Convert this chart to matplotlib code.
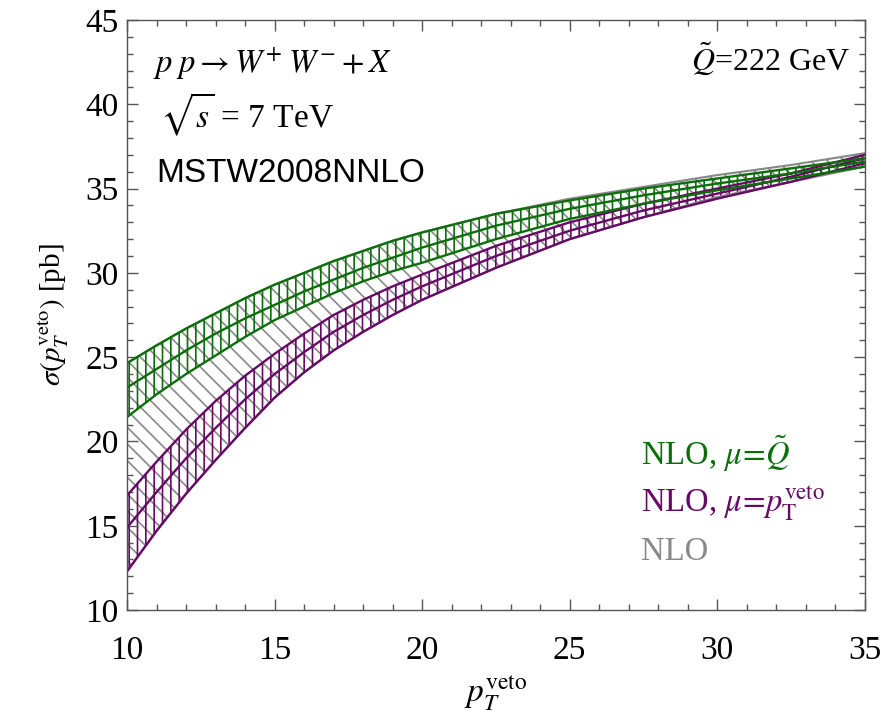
import numpy as np
import matplotlib
matplotlib.use('Agg')
import matplotlib.pyplot as plt
from matplotlib.ticker import MultipleLocator

ptveto = [10, 11, 12, 13, 14, 15, 16, 17, 18, 19, 20, 22.5, 25, 27.5, 30, 32.5, 35]

# NLO, mu = Q~ band (upper, central, lower)
q_up = [24.65, 25.7, 26.7, 27.6, 28.5, 29.3, 30.0, 30.7, 31.3, 31.9, 32.4,
        33.5, 34.3, 35.0, 35.6, 36.2, 36.8]
q_mid = [23.2, 24.3, 25.4, 26.4, 27.3, 28.1, 28.9, 29.6, 30.3, 30.9, 31.5,
         32.8, 33.8, 34.6, 35.3, 35.9, 36.6]
q_lo = [21.45, 22.8, 24.0, 25.1, 26.2, 27.2, 28.0, 28.8, 29.5, 30.1, 30.6,
        32.0, 33.2, 34.1, 34.9, 35.6, 36.3]

# NLO, mu = p_T^veto band
p_up = [16.8, 18.8, 20.7, 22.4, 23.9, 25.2, 26.4, 27.5, 28.4, 29.2, 29.9,
        31.6, 33.0, 34.1, 35.0, 35.9, 37.0]
p_mid = [14.9, 17.0, 19.0, 20.8, 22.5, 24.0, 25.3, 26.5, 27.5, 28.4, 29.2,
         31.0, 32.5, 33.7, 34.7, 35.7, 36.8]
p_lo = [12.3, 14.7, 16.9, 18.9, 20.8, 22.6, 24.1, 25.4, 26.5, 27.5, 28.4,
        30.3, 32.0, 33.3, 34.4, 35.4, 36.5]

# NLO total envelope
g_up = [24.65, 25.7, 26.7, 27.6, 28.5, 29.3, 30.0, 30.7, 31.3, 31.9, 32.4,
        33.5, 34.4, 35.1, 35.8, 36.4, 37.1]
g_lo = [12.3, 14.7, 16.9, 18.9, 20.8, 22.6, 24.1, 25.4, 26.5, 27.5, 28.4,
        30.3, 32.0, 33.3, 34.5, 35.4, 36.3]

green = '#0b6e0b'
purple = '#660a66'
gray = '#888888'

plt.rcParams['font.family'] = ['Liberation Serif', 'DejaVu Serif']
plt.rcParams['mathtext.fontset'] = 'stix'
plt.rcParams['hatch.linewidth'] = 1.2

fig = plt.figure(figsize=(8.95, 7.28), dpi=100)
ax = fig.add_axes([0.142, 0.162, 0.824, 0.8105])

# gray envelope with diagonal hatch
ax.fill_between(ptveto, g_lo, g_up, facecolor='none', edgecolor=gray,
                hatch='\\\\', linewidth=0)
ax.plot(ptveto, g_up, color=gray, lw=1.5)
ax.plot(ptveto, g_lo, color=gray, lw=1.5)

# purple band
ax.fill_between(ptveto, p_lo, p_up, facecolor='none', edgecolor=purple,
                hatch='||', linewidth=0)
for yy in [p_up, p_mid, p_lo]:
    ax.plot(ptveto, yy, color=purple, lw=1.7)

# green band
ax.fill_between(ptveto, q_lo, q_up, facecolor='none', edgecolor=green,
                hatch='||', linewidth=0)
for yy in [q_up, q_mid, q_lo]:
    ax.plot(ptveto, yy, color=green, lw=1.7)

ax.set_xlim(10, 35)
ax.set_ylim(10, 45)
ax.xaxis.set_major_locator(MultipleLocator(5))
ax.xaxis.set_minor_locator(MultipleLocator(1))
ax.yaxis.set_major_locator(MultipleLocator(5))
ax.yaxis.set_minor_locator(MultipleLocator(1))
ax.tick_params(which='both', direction='in', top=True, right=True,
               color='#555555', width=1)
ax.tick_params(which='major', length=8, labelsize=24)
ax.tick_params(axis='x', which='major', pad=18)
ax.tick_params(axis='y', which='major', pad=6)
ax.tick_params(which='minor', length=4)
for s in ax.spines.values():
    s.set_color('#555555')
    s.set_linewidth(1)

ax.set_xlabel(r'$p_T^{\mathrm{veto}}$', fontsize=24, labelpad=6)
ax.set_ylabel(r'$\sigma(p_T^{\mathrm{veto}})$ [pb]', fontsize=21, labelpad=10)

# annotations
ax.text(0.035, 0.925, r'$p\;p \rightarrow W^{+}\;W^{-} + X$', transform=ax.transAxes,
        fontsize=23.5, va='center')
ax.text(0.045, 0.84, r'$\sqrt{s}$ = 7 TeV', transform=ax.transAxes,
        fontsize=24, va='center')
ax.text(0.04, 0.74, 'MSTW2008NNLO', transform=ax.transAxes, fontsize=24,
        va='center', family=['Liberation Sans', 'DejaVu Sans'])
ax.text(0.98, 0.935, r'$\tilde{Q}$=222 GeV', transform=ax.transAxes,
        fontsize=23, va='center', ha='right')

ax.text(0.697, 0.265, r'NLO, $\mu\!=\!\tilde{Q}$', transform=ax.transAxes,
        fontsize=23.5, va='center', color=green)
ax.text(0.697, 0.18, r'NLO, $\mu\!=\!p_{\mathrm{T}}^{\mathrm{veto}}$', transform=ax.transAxes,
        fontsize=23.5, va='center', color=purple)
ax.text(0.697, 0.098, 'NLO', transform=ax.transAxes,
        fontsize=23.5, va='center', color=gray)

fig.savefig('out.png', dpi=100)
